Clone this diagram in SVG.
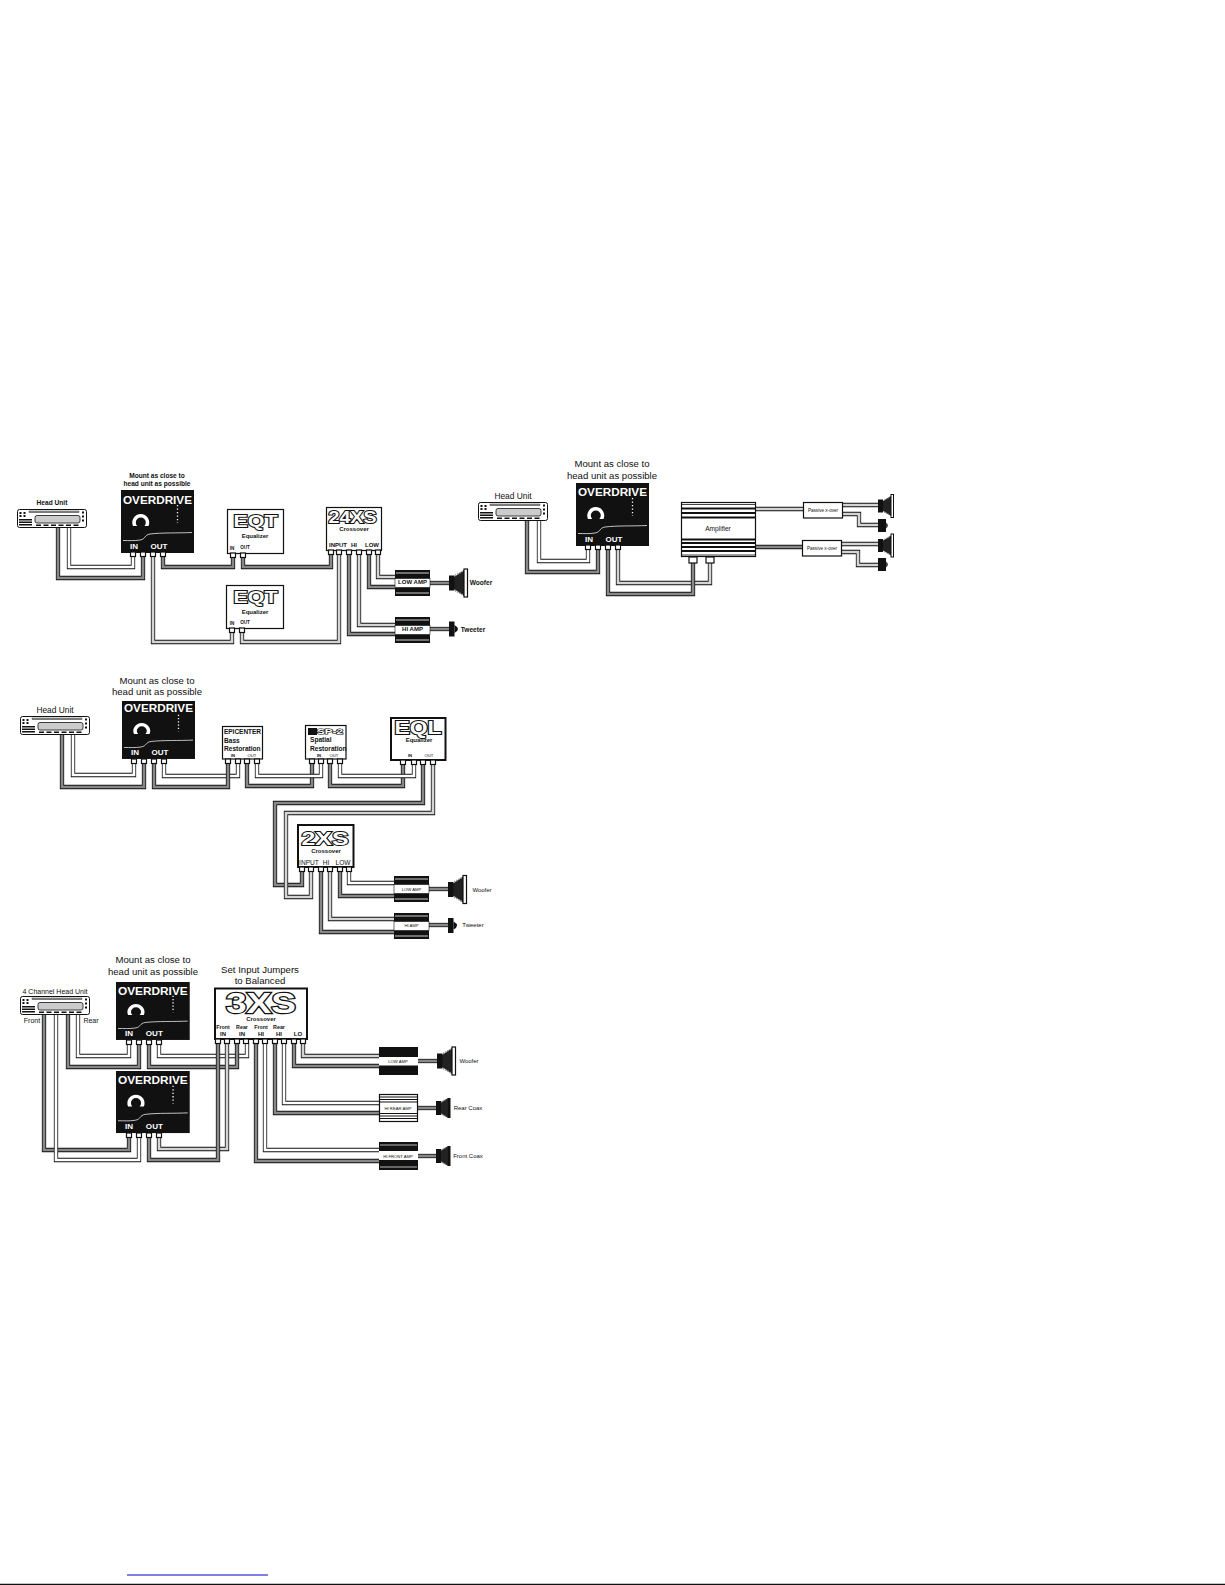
<svg xmlns="http://www.w3.org/2000/svg" width="1225" height="1585" viewBox="0 0 1225 1585">
<style>
text{font-family:"Liberation Sans",Arial,sans-serif;dominant-baseline:central;text-anchor:middle;fill:#111}
.b{font-weight:700}
.s7{font-size:6.6px}.s6{font-size:6px}.s5{font-size:5.3px}.s46{font-size:4.6px}.s4{font-size:4.2px}.s9{font-size:9.6px}.s8{font-size:8.4px}.s67{font-size:7px}
.l{text-anchor:start}
.logo{font-weight:700;fill:#fff;stroke:#111;paint-order:stroke;stroke-linejoin:miter;text-anchor:start}
.od{font-weight:700;fill:#fff;font-size:11px;text-anchor:start}
.io{font-weight:700;fill:#fff;font-size:8px}
.box{fill:#fff;stroke:#111;stroke-width:1.2}
.box2{fill:#fff;stroke:#111;stroke-width:2}
.c path{fill:none;stroke-linejoin:miter}
.c path:nth-child(1){stroke:#111;stroke-width:4.3}
.g path:nth-child(2){stroke:#888;stroke-width:2.7}
.w path:nth-child(2){stroke:#fff;stroke-width:2.7}
.m path:nth-child(2){stroke:#d4d4d4;stroke-width:2.7}
</style>
<defs>
<rect id="p" x="-2.5" y="0" width="5" height="4.5" fill="#fff" stroke="#111" stroke-width="1.2"/>
<g id="hu">
<rect x="0.5" y="0.5" width="69" height="18" rx="2" fill="#fff" stroke="#111" stroke-width="1"/>
<rect x="12" y="2" width="50" height="1.6" fill="#999" stroke="#111" stroke-width=".4"/>
<rect x="18" y="6.5" width="45" height="7.5" rx="2" fill="#ccc" stroke="#111" stroke-width=".8"/>
<path d="M2.500 3h2v2h-2zM6.500 3h2v2h-2zM2.500 6h2v2h-2zM6.500 6h2v2h-2zM65 2.500h2v2h-2zM65 6.500h2v2h-2zM65 10.500h2v2h-2zM2 10h13v1.500H2zM2 12.500h13V14H2zM2 15h13v1.500H2zM19 15.500h5v1.600h-5zM26.500 15.500h5v1.600h-5zM34 15.500h5v1.600h-5zM41.500 15.500h5v1.600h-5zM49 15.500h5v1.600h-5zM56.500 15.500h5v1.600h-5z" fill="#111"/>
</g>
<g id="oa">
<rect width="73" height="63" fill="#111"/>
<path d="M12 36A8.500 8.500 0 1 1 27.500 36H23.400A5 5 0 1 0 16.200 36z" fill="#fff"/>
<path d="M2 50.500c6 0 11 .5 17-.5 6-1 4-5 10-6 12-1.500 28-.8 42-1.500" fill="none" stroke="#eee" stroke-width=".8"/>
<path d="M56.500 15v18" fill="none" stroke="#fff" stroke-width="1.300" stroke-dasharray="1.300 2.200"/>
</g>
<g id="spk">
<path d="M5-6 15-13V13L5 6z" fill="#222"/>
<path d="M6-7.500 14-12M6 7.500 14 12" stroke="#999" stroke-width="1.500" stroke-dasharray="1.500 1"/>
<rect x="0" y="-7.500" width="5.500" height="15" fill="#111"/>
<rect x="15" y="-14" width="3.500" height="28" fill="#fff" stroke="#111" stroke-width="1.200"/>
</g>
<g id="spk2">
<path d="M5-5 13-10V10L5 5z" fill="#222"/>
<path d="M6-6 12-9M6 6 12 9" stroke="#999" stroke-width="1.200" stroke-dasharray="1.200 1"/>
<rect x="0" y="-6.500" width="5" height="13" fill="#111"/>
<rect x="13" y="-11.500" width="2.500" height="23" fill="#fff" stroke="#111" stroke-width="1"/>
</g>
<g id="twt">
<rect x="0" y="-7.500" width="5.500" height="15" fill="#111"/>
<path d="M5.500-4Q9-2 9 0T5.500 4z" fill="#111"/>
</g>
<g id="twt2">
<rect x="0" y="-6.500" width="8" height="13" fill="#111"/>
<path d="M8-3Q10-1.500 10 0T8 3z" fill="#444"/>
</g>
<g id="cx">
<path d="M4-5 12-10V10L4 5z" fill="#222"/>
<path d="M5-6 11-9M5 6 11 9" stroke="#999" stroke-width="1.200" stroke-dasharray="1.200 1"/>
<rect x="0" y="-7" width="5" height="14" fill="#111"/>
<rect x="12" y="-10" width="2.500" height="20" fill="#111"/>
</g>
<g id="amp">
<rect width="35" height="26" fill="#111"/>
<path d="M1 3H34M1 23H34" stroke="#fff" stroke-width=".8"/>
<rect x="0" y="8.500" width="35" height="9" fill="#fff" stroke="#111" stroke-width=".6"/>
</g>
</defs>

<g id="connectors">
<!-- system 1 -->
<g class="c w"><path d="M69 528V567H133V556"/><path d="M69 528V567H133V556"/></g>
<g class="c g"><path d="M58 528V578H143V556"/><path d="M58 528V578H143V556"/></g>
<g class="c g"><path d="M163 556V567H233V556"/><path d="M163 556V567H233V556"/></g>
<g class="c g"><path d="M243 556V567H331V554"/><path d="M243 556V567H331V554"/></g>
<g class="c m"><path d="M153 556V642H232V630"/><path d="M153 556V642H232V630"/></g>
<g class="c m"><path d="M242 630V642H339V554"/><path d="M242 630V642H339V554"/></g>
<g class="c m"><path d="M378 554V577H396"/><path d="M378 554V577H396"/></g>
<g class="c g"><path d="M369 554V587H396"/><path d="M369 554V587H396"/></g>
<g class="c m"><path d="M359 554V625H396"/><path d="M359 554V625H396"/></g>
<g class="c g"><path d="M349 554V634H396"/><path d="M349 554V634H396"/></g>
<g class="c g"><path d="M429 583H450"/><path d="M429 583H450"/></g>
<g class="c g"><path d="M429 629H450"/><path d="M429 629H450"/></g>
<!-- system 2 -->
<g class="c w"><path d="M539 520V561H588V549"/><path d="M539 520V561H588V549"/></g>
<g class="c g"><path d="M527 520V572H598V549"/><path d="M527 520V572H598V549"/></g>
<g class="c m"><path d="M618 549V583H710V561"/><path d="M618 549V583H710V561"/></g>
<g class="c g"><path d="M608 549V594H693V561"/><path d="M608 549V594H693V561"/></g>
<g class="c m"><path d="M756 509H804"/><path d="M756 509H804"/></g>
<g class="c g"><path d="M756 547H803"/><path d="M756 547H803"/></g>
<g class="c m"><path d="M843 505H879"/><path d="M843 505H879"/></g>
<g class="c m"><path d="M843 514H859V525H879"/><path d="M843 514H859V525H879"/></g>
<g class="c m"><path d="M842 544H879"/><path d="M842 544H879"/></g>
<g class="c m"><path d="M842 552H858V565H879"/><path d="M842 552H858V565H879"/></g>
<!-- system 3 -->
<g class="c w"><path d="M73 735V775H134V762"/><path d="M73 735V775H134V762"/></g>
<g class="c g"><path d="M62 735V787H144V762"/><path d="M62 735V787H144V762"/></g>
<g class="c w"><path d="M164 762V776H238V762"/><path d="M164 762V776H238V762"/></g>
<g class="c g"><path d="M154 762V787H228V762"/><path d="M154 762V787H228V762"/></g>
<g class="c g"><path d="M247 762V786H312V762"/><path d="M247 762V786H312V762"/></g>
<g class="c w"><path d="M257 762V776H321V762"/><path d="M257 762V776H321V762"/></g>
<g class="c g"><path d="M330 762V786H403V763"/><path d="M330 762V786H403V763"/></g>
<g class="c w"><path d="M340 762V776H414V763"/><path d="M340 762V776H414V763"/></g>
<g class="c g"><path d="M423 763V803H275V885H302V870"/><path d="M423 763V803H275V885H302V870"/></g>
<g class="c m"><path d="M433 763V813H286V897H311V870"/><path d="M433 763V813H286V897H311V870"/></g>
<g class="c w"><path d="M349 870V883H395"/><path d="M349 870V883H395"/></g>
<g class="c g"><path d="M340 870V896H395"/><path d="M340 870V896H395"/></g>
<g class="c m"><path d="M330 870V919H395"/><path d="M330 870V919H395"/></g>
<g class="c g"><path d="M321 870V932H395"/><path d="M321 870V932H395"/></g>
<g class="c g"><path d="M428 889H449"/><path d="M428 889H449"/></g>
<g class="c g"><path d="M428 925H449"/><path d="M428 925H449"/></g>
<!-- system 4 -->
<g class="c w"><path d="M78 1014V1056H129V1043"/><path d="M78 1014V1056H129V1043"/></g>
<g class="c g"><path d="M68 1014V1067H139V1043"/><path d="M68 1014V1067H139V1043"/></g>
<g class="c w"><path d="M159 1043V1056H247V1043"/><path d="M159 1043V1056H247V1043"/></g>
<g class="c g"><path d="M149 1043V1067H237V1043"/><path d="M149 1043V1067H237V1043"/></g>
<g class="c g"><path d="M44 1014V1150H129V1136"/><path d="M44 1014V1150H129V1136"/></g>
<g class="c w"><path d="M56 1014V1160H139V1136"/><path d="M56 1014V1160H139V1136"/></g>
<g class="c m"><path d="M159 1136V1149H227V1043"/><path d="M159 1136V1149H227V1043"/></g>
<g class="c g"><path d="M149 1136V1160H218V1043"/><path d="M149 1136V1160H218V1043"/></g>
<g class="c m"><path d="M303 1043V1056H380"/><path d="M303 1043V1056H380"/></g>
<g class="c g"><path d="M294 1043V1066H380"/><path d="M294 1043V1066H380"/></g>
<g class="c w"><path d="M284 1043V1103H380"/><path d="M284 1043V1103H380"/></g>
<g class="c g"><path d="M275 1043V1113H380"/><path d="M275 1043V1113H380"/></g>
<g class="c w"><path d="M265 1043V1150H380"/><path d="M265 1043V1150H380"/></g>
<g class="c g"><path d="M256 1043V1161H380"/><path d="M256 1043V1161H380"/></g>
<g class="c g"><path d="M417 1061H438"/><path d="M417 1061H438"/></g>
<g class="c g"><path d="M417 1108H437"/><path d="M417 1108H437"/></g>
<g class="c g"><path d="M417 1156H437"/><path d="M417 1156H437"/></g>
</g>

<!-- SYSTEM 1 -->
<g id="s1-headunit"><use href="#hu" x="17" y="509"/><text class="b s7" x="52" y="502">Head Unit</text></g>
<g id="s1-note"><text class="b s7" x="157" y="475">Mount as close to</text><text class="b s7" x="157" y="483">head unit as possible</text></g>
<g id="s1-overdrive">
<g transform="translate(121 490)"><use href="#oa"/><text class="od" x="2" y="9.500" textLength="69" lengthAdjust="spacingAndGlyphs">OVERDRIVE</text><text class="io" x="13" y="56">IN</text><text class="io" x="38" y="56">OUT</text></g>
<use href="#p" x="133" y="552"/><use href="#p" x="143" y="552"/><use href="#p" x="153" y="552"/><use href="#p" x="163" y="552"/>
</g>
<g id="s1-eq1"><rect class="box" x="227.500" y="509.500" width="56" height="44"/>
<text class="logo" x="233.500" y="521.500" font-size="17" stroke-width="2" textLength="44" lengthAdjust="spacingAndGlyphs">EQT</text>
<text class="b s6" x="255" y="536">Equalizer</text><text class="b s46" x="232" y="548">IN</text><text class="b s46" x="245" y="547">OUT</text>
<use href="#p" x="233" y="553"/><use href="#p" x="243" y="553"/></g>
<g id="s1-eq2"><rect class="box" x="226.500" y="585.500" width="57" height="43"/>
<text class="logo" x="233.500" y="597.500" font-size="17" stroke-width="2" textLength="44" lengthAdjust="spacingAndGlyphs">EQT</text>
<text class="b s6" x="255" y="612">Equalizer</text><text class="b s46" x="232" y="623">IN</text><text class="b s46" x="245" y="622">OUT</text>
<use href="#p" x="232" y="628"/><use href="#p" x="242" y="628"/></g>
<g id="s1-24xs"><rect class="box" x="326.500" y="507.500" width="55" height="43"/>
<text class="logo" x="328.500" y="517" font-size="17" stroke-width="2" textLength="48" lengthAdjust="spacingAndGlyphs">24XS</text>
<text class="b s6" x="354" y="528.500">Crossover</text><text class="b s6" x="338" y="545">INPUT</text><text class="b s6" x="354" y="545">HI</text><text class="b s6" x="372" y="545">LOW</text>
<use href="#p" x="331" y="550"/><use href="#p" x="339" y="550"/><use href="#p" x="349" y="550"/><use href="#p" x="359" y="550"/><use href="#p" x="369" y="550"/><use href="#p" x="378" y="550"/></g>
<g id="s1-lowamp"><use href="#amp" x="395" y="570"/><text class="b s6" x="412.500" y="582">LOW AMP</text></g>
<g id="s1-hiamp"><use href="#amp" x="395" y="617"/><text class="b s6" x="412.500" y="629">HI AMP</text></g>
<g id="s1-woofer"><use href="#spk" x="449" y="583"/><text class="b s7" x="481" y="582">Woofer</text></g>
<g id="s1-tweeter"><use href="#twt" x="449" y="629"/><text class="b s7" x="473" y="629">Tweeter</text></g>

<!-- SYSTEM 2 -->
<g id="s2-headunit"><use href="#hu" x="478" y="502"/><text class="s8" x="513" y="496">Head Unit</text></g>
<g id="s2-note"><text class="s9" x="612" y="463">Mount as close to</text><text class="s9" x="612" y="475">head unit as possible</text></g>
<g id="s2-overdrive">
<g transform="translate(576 483)"><use href="#oa"/><text class="od" x="2" y="9" textLength="69" lengthAdjust="spacingAndGlyphs">OVERDRIVE</text><text class="io" x="13" y="56">IN</text><text class="io" x="38" y="56">OUT</text></g>
<use href="#p" x="588" y="545"/><use href="#p" x="598" y="545"/><use href="#p" x="608" y="545"/><use href="#p" x="618" y="545"/>
</g>
<g id="s2-amplifier">
<rect class="box" x="681.500" y="502.500" width="74" height="54"/>
<path d="M682 504.500H755" stroke="#111" stroke-width=".8"/>
<path d="M682 508.500H755M682 513H755M682 517.500H755M682 539.500H755M682 543H755M682 547H755M682 551H755" stroke="#111" stroke-width="2.200"/>
<path d="M682 555H755" stroke="#111" stroke-width=".8"/>
<text class="s7" x="718" y="528">Amplifier</text>
<rect x="689" y="557" width="8" height="6" fill="#fff" stroke="#111" stroke-width="1.200"/><rect x="706" y="557" width="8" height="6" fill="#fff" stroke="#111" stroke-width="1.200"/>
</g>
<g id="s2-xover1"><rect class="box" x="803.500" y="502.500" width="39" height="15.500"/><text class="s46" x="823" y="510">Passive x-over</text></g>
<g id="s2-xover2"><rect class="box" x="802.500" y="540.500" width="39" height="15.500"/><text class="s46" x="822" y="548">Passive x-over</text></g>
<g id="s2-spk1"><use href="#spk2" x="878" y="506"/></g>
<g id="s2-twt1"><use href="#twt2" x="878" y="525.500"/></g>
<g id="s2-spk2"><use href="#spk2" x="878" y="545.500"/></g>
<g id="s2-twt2"><use href="#twt2" x="878" y="564.500"/></g>

<!-- SYSTEM 3 -->
<g id="s3-headunit"><use href="#hu" x="20" y="716"/><text class="s8" x="55" y="710">Head Unit</text></g>
<g id="s3-note"><text class="s9" x="157" y="680">Mount as close to</text><text class="s9" x="157" y="691">head unit as possible</text></g>
<g id="s3-overdrive">
<g transform="translate(122 701) scale(1 .92)"><use href="#oa"/><text class="od" x="2" y="7.500" textLength="69" lengthAdjust="spacingAndGlyphs">OVERDRIVE</text><text class="io" x="13" y="56">IN</text><text class="io" x="38" y="56">OUT</text></g>
<use href="#p" x="134" y="759"/><use href="#p" x="144" y="759"/><use href="#p" x="154" y="759"/><use href="#p" x="164" y="759"/>
</g>
<g id="s3-epicenter"><rect class="box" x="222.500" y="726.500" width="40" height="32.500"/>
<text class="b l s7" x="224" y="731.500" textLength="37" lengthAdjust="spacingAndGlyphs">EPICENTER</text>
<text class="b l s7" x="224" y="740">Bass</text><text class="b l s7" x="224" y="748">Restoration</text>
<text class="b s4" x="233" y="755">IN</text><text class="s4" x="252" y="755">OUT</text>
<use href="#p" x="228" y="759"/><use href="#p" x="238" y="759"/><use href="#p" x="247" y="759"/><use href="#p" x="257" y="759"/></g>
<g id="s3-sp2"><rect class="box" x="305.500" y="725.500" width="40.500" height="33.500"/>
<rect x="308" y="728" width="9" height="7" fill="#111"/>
<text class="logo" x="317" y="731.500" font-size="8" stroke-width="1.200" textLength="26" lengthAdjust="spacingAndGlyphs">SP-2</text>
<text class="b l s7" x="310" y="739.500">Spatial</text><text class="b l s7" x="310" y="748">Restoration</text>
<text class="b s4" x="319" y="755">IN</text><text class="s4" x="334" y="755">OUT</text>
<use href="#p" x="312" y="759"/><use href="#p" x="321" y="759"/><use href="#p" x="330" y="759"/><use href="#p" x="340" y="759"/></g>
<g id="s3-eql"><rect class="box2" x="391" y="718" width="54.500" height="42"/>
<text class="logo" x="394.500" y="728" font-size="18" stroke-width="2" textLength="47" lengthAdjust="spacingAndGlyphs">EQL</text>
<text class="b s6" x="419" y="740">Equalizer</text><text class="b s4" x="410" y="755">IN</text><text class="s4" x="429" y="755">OUT</text>
<use href="#p" x="403" y="760"/><use href="#p" x="414" y="760"/><use href="#p" x="423" y="760"/><use href="#p" x="433" y="760"/></g>
<g id="s3-2xs"><rect class="box2" x="298" y="825" width="55.500" height="42"/>
<text class="logo" x="301.500" y="838" font-size="19" stroke-width="2" textLength="47" lengthAdjust="spacingAndGlyphs">2XS</text>
<text class="b s6" x="326" y="851">Crossover</text><text class="s7" x="309" y="862">INPUT</text><text class="s7" x="326" y="862">HI</text><text class="s7" x="343" y="862">LOW</text>
<use href="#p" x="302" y="867"/><use href="#p" x="311" y="867"/><use href="#p" x="321" y="867"/><use href="#p" x="330" y="867"/><use href="#p" x="340" y="867"/><use href="#p" x="349" y="867"/></g>
<g id="s3-lowamp"><use href="#amp" x="394" y="876"/><text class="s4" x="411.500" y="889">LOW AMP</text></g>
<g id="s3-hiamp"><use href="#amp" x="394" y="913"/><text class="s4" x="411.500" y="925.500">HI AMP</text></g>
<g id="s3-woofer"><use href="#spk" x="448" y="889.500"/><text class="s6" x="482" y="890">Woofer</text></g>
<g id="s3-tweeter"><use href="#twt" x="448" y="925.500"/><text class="s6" x="473" y="925">Tweeter</text></g>

<!-- SYSTEM 4 -->
<g id="s4-headunit"><use href="#hu" x="20" y="996"/><text class="s67" x="55" y="991">4 Channel Head Unit</text><text class="s67" x="32" y="1020">Front</text><text class="s67" x="91" y="1020">Rear</text></g>
<g id="s4-note"><text class="s9" x="153" y="959">Mount as close to</text><text class="s9" x="153" y="971">head unit as possible</text></g>
<g id="s4-jumpers"><text class="s9" x="260" y="969">Set Input Jumpers</text><text class="s9" x="260" y="980">to Balanced</text></g>
<g id="s4-overdrive1">
<g transform="translate(116 982) scale(1.010 .92)"><use href="#oa"/><text class="od" x="2" y="9.500" textLength="69" lengthAdjust="spacingAndGlyphs">OVERDRIVE</text><text class="io" x="13" y="56">IN</text><text class="io" x="38" y="56">OUT</text></g>
<use href="#p" x="129" y="1040"/><use href="#p" x="139" y="1040"/><use href="#p" x="149" y="1040"/><use href="#p" x="159" y="1040"/>
</g>
<g id="s4-overdrive2">
<g transform="translate(116 1071) scale(1.010 .985)"><use href="#oa"/><text class="od" x="2" y="9" textLength="69" lengthAdjust="spacingAndGlyphs">OVERDRIVE</text><text class="io" x="13" y="56">IN</text><text class="io" x="38" y="56">OUT</text></g>
<use href="#p" x="129" y="1133"/><use href="#p" x="139" y="1133"/><use href="#p" x="149" y="1133"/><use href="#p" x="159" y="1133"/>
</g>
<g id="s4-3xs"><rect class="box2" x="215" y="988.500" width="92" height="50.500"/>
<text class="logo" x="226" y="1002.500" font-size="29" stroke-width="2.400" textLength="70" lengthAdjust="spacingAndGlyphs">3XS</text>
<text class="b s6" x="261" y="1018.500">Crossover</text>
<text class="b s5" x="223" y="1027">Front</text><text class="b s5" x="242" y="1027">Rear</text><text class="b s5" x="261" y="1027">Front</text><text class="b s5" x="279" y="1027">Rear</text>
<text class="b s6" x="223" y="1034">IN</text><text class="b s6" x="242" y="1034">IN</text><text class="b s6" x="261" y="1034">HI</text><text class="b s6" x="279" y="1034">HI</text><text class="b s6" x="298" y="1034">LO</text>
<use href="#p" x="218" y="1039"/><use href="#p" x="227" y="1039"/><use href="#p" x="237" y="1039"/><use href="#p" x="246" y="1039"/><use href="#p" x="256" y="1039"/><use href="#p" x="265" y="1039"/><use href="#p" x="275" y="1039"/><use href="#p" x="284" y="1039"/><use href="#p" x="294" y="1039"/><use href="#p" x="303" y="1039"/></g>
<g id="s4-lowamp"><rect x="379" y="1047" width="39" height="28" fill="#111"/><rect x="379" y="1057" width="39" height="8.500" fill="#fff"/><text class="s4" x="398" y="1061">LOW AMP</text></g>
<g id="s4-rearamp"><rect class="box" x="379.500" y="1094.500" width="38" height="27"/>
<path d="M380 1097H417M380 1099.500H417M380 1102H417M380 1113.500H417M380 1116H417M380 1118.500H417" stroke="#111" stroke-width="1.100"/>
<text class="s4" x="398" y="1108">HI REAR AMP</text></g>
<g id="s4-frontamp"><rect x="379" y="1142" width="39" height="28" fill="#111"/><path d="M380 1145H417M380 1167H417" stroke="#fff" stroke-width=".7"/><rect x="379" y="1151" width="39" height="9" fill="#fff"/><text class="s4" x="398" y="1156">HI FRONT AMP</text></g>
<g id="s4-woofer"><use href="#spk" x="437" y="1061"/><text class="s6" x="469" y="1061">Woofer</text></g>
<g id="s4-rearcoax"><use href="#cx" x="436" y="1108"/><text class="s6" x="468" y="1108">Rear Coax</text></g>
<g id="s4-frontcoax"><use href="#cx" x="436" y="1156"/><text class="s6" x="468" y="1156">Front Coax</text></g>

<path d="M127 1575H268" stroke="#0000cc" stroke-width="1.200"/>
<path d="M0 1584.500H1225" stroke="#111" stroke-width="1.400"/>
</svg>
